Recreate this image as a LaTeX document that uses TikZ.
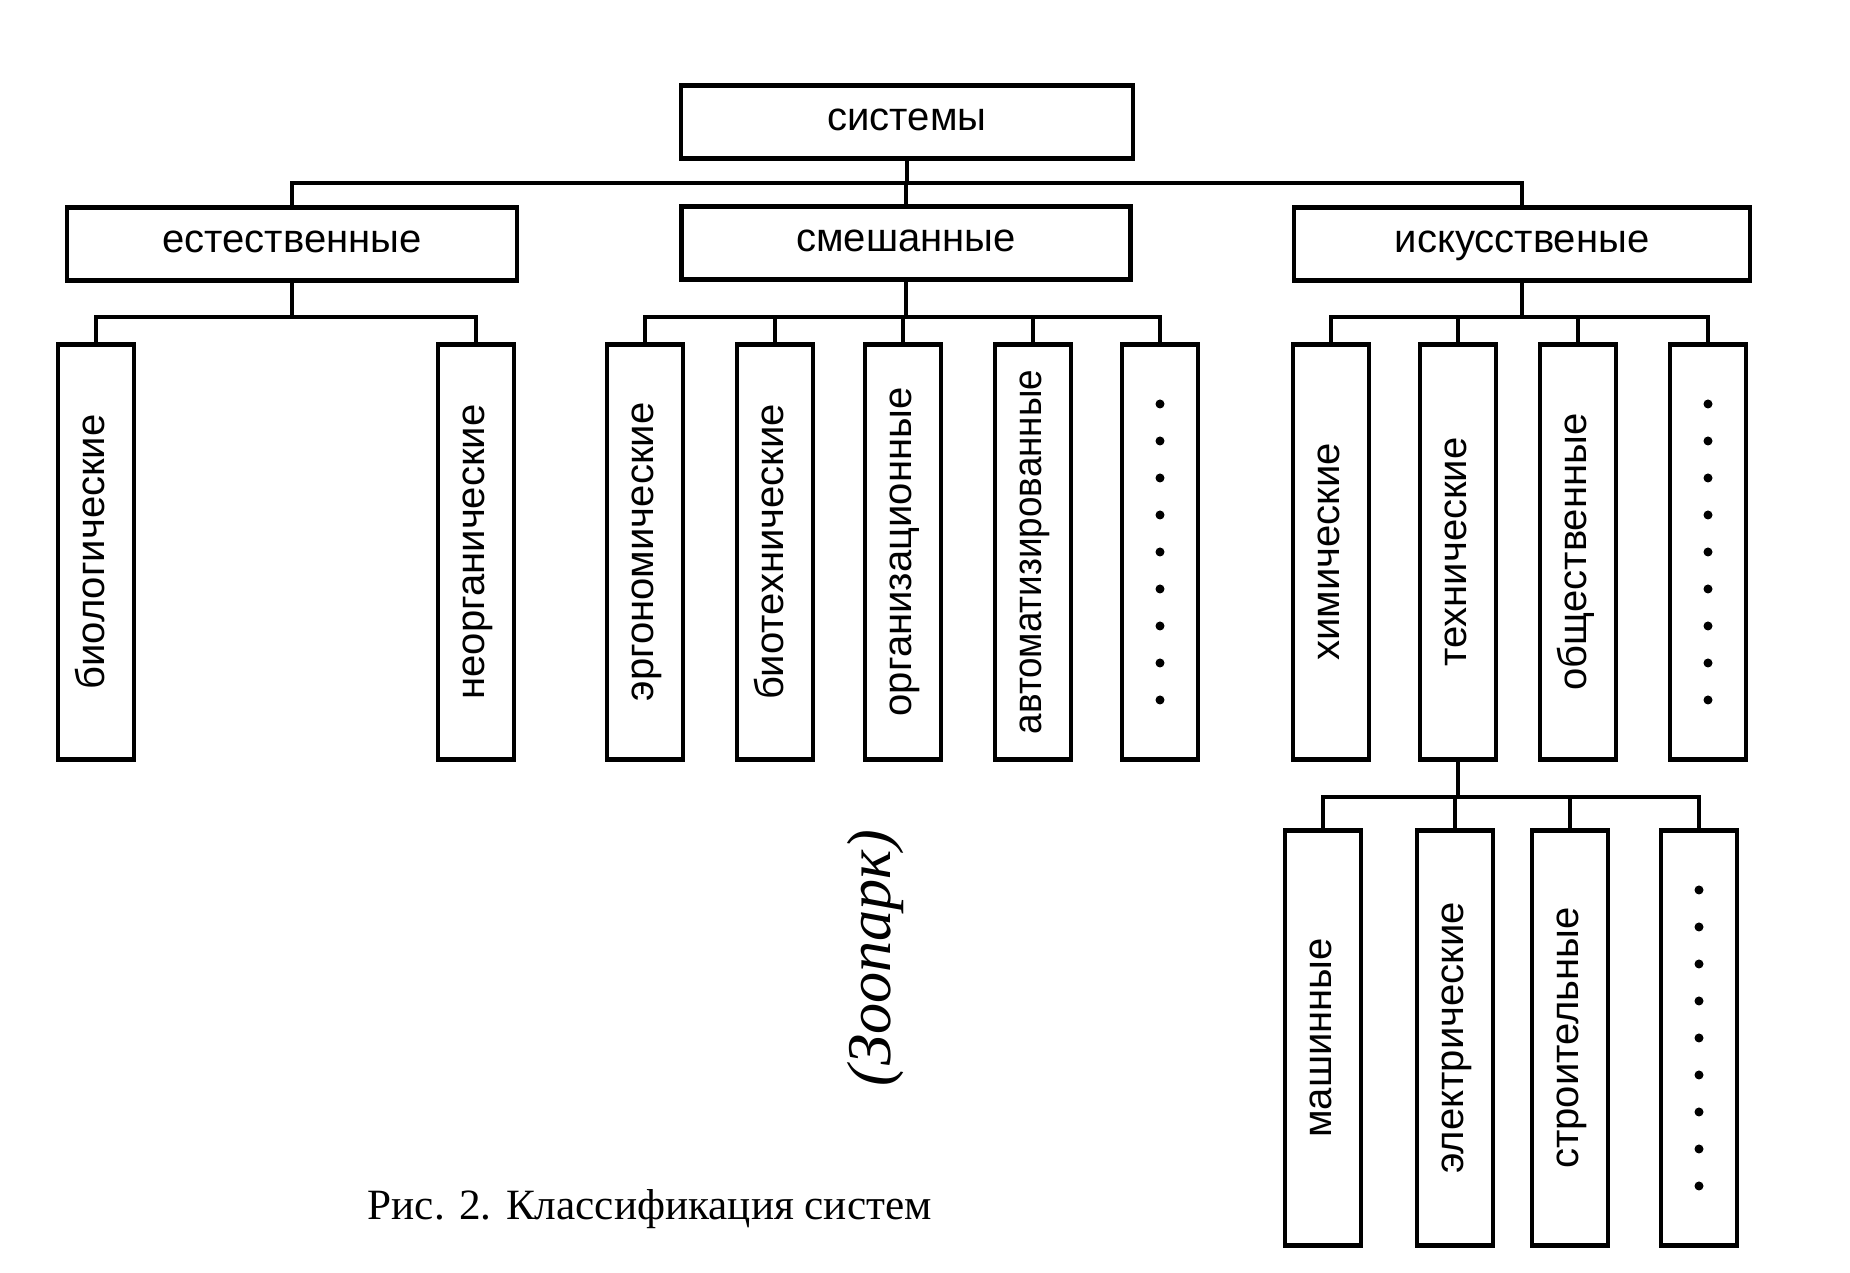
\documentclass[tikz,border=0pt]{standalone}
\usepackage{fontspec}
\setmainfont{Liberation Serif}
\newfontfamily\labfont{Liberation Sans}
\begin{document}
\begin{tikzpicture}[x=0.1mm,y=-0.1mm,
  hbox/.style={draw, line width=0.45mm, minimum height=7.3mm, inner sep=0pt, text height=1ex, text depth=0pt, font=\labfont\fontsize{11.4}{13}\selectfont},
  vbox/.style={draw, line width=0.45mm, minimum width=7.6mm, minimum height=41.5mm, inner sep=0pt},
  vlab/.style={rotate=90, font=\labfont\fontsize{11.4}{13}\selectfont, inner sep=0pt, text height=1ex, text depth=0pt},
  link/.style={line width=0.38mm, line cap=rect},
  blob/.style={fill=black}]
\useasboundingbox[fill=white] (0,0) rectangle (1850,1273);

% level 1-2
\node[hbox, minimum width=45.2mm] (sys) at (907,122) {системы};
\node[hbox, minimum width=45.0mm] (nat) at (292,244) {естественные};
\node[hbox, minimum width=44.9mm] (mix) at (906,243) {смешанные};
\node[hbox, minimum width=45.6mm] (art) at (1522,244) {искусственые};

\coordinate (bus1) at (0,183);
\draw[link] (sys.south) -- (sys.south |- bus1);
\draw[link] (nat.north |- bus1) -- (art.north |- bus1);
\draw[link] (nat.north) -- (nat.north |- bus1);
\draw[link] (mix.north) -- (mix.north |- bus1);
\draw[link] (art.north) -- (art.north |- bus1);

% level 3
\foreach \n/\x in {bio/96, neo/476, ergo/645, btech/775, org/903, avto/1033, dA/1160, chem/1331, tech/1458, obsh/1578, dB/1708}
  \node[vbox] (\n) at (\x,552) {};
\node[vlab] (bioT) at (bio) {биологические};
\node[vlab] (neoT) at (neo) {неорганические};
\node[vlab] (ergoT) at (ergo) {эргономические};
\node[vlab] (btechT) at (btech) {биотехнические};
\node[vlab] (orgT) at (org) {организационные};
\node[vlab] (avtoT) at (avto) {\scalebox{0.92}[1]{автоматизированные}};
\node[vlab] (chemT) at (chem) {химические};
\node[vlab] (techT) at (tech) {технические};
\node[vlab] (obshT) at (obsh) {общественные};

\coordinate (bus2) at (0,317);
\draw[link] (nat.south) -- (nat.south |- bus2);
\draw[link] (bio.north |- bus2) -- (neo.north |- bus2);
\draw[link] (mix.south) -- (mix.south |- bus2);
\draw[link] (ergo.north |- bus2) -- (dA.north |- bus2);
\draw[link] (art.south) -- (art.south |- bus2);
\draw[link] (chem.north |- bus2) -- (dB.north |- bus2);
\foreach \n in {bio, neo, ergo, btech, org, avto, dA, chem, tech, obsh, dB}
  \draw[link] (\n.north) -- (\n.north |- bus2);

% level 4
\foreach \n/\x in {mash/1323, elec/1455, stroi/1570, dC/1699}
  \node[vbox] (\n) at (\x,1038) {};
\node[vlab] (mashT) at (mash) {машинные};
\node[vlab] (elecT) at (elec) {электрические};
\node[vlab] (stroiT) at (stroi) {строительные};

\coordinate (bus3) at (0,797);
\draw[link] (tech.south) -- (tech.south |- bus3);
\draw[link] (mash.north |- bus3) -- (dC.north |- bus3);
\foreach \n in {mash, elec, stroi, dC}
  \draw[link] (\n.north) -- (\n.north |- bus3);

% dotted boxes
\foreach \n in {dA, dB, dC}
  \foreach \k in {-4,...,4}
    \fill[blob] (\n) ++(0,\k*37) circle[radius=0.45mm];

% annotations
\node[rotate=90, inner sep=0pt] (zoo) at (876,958) {\resizebox{25.7mm}{!}{\itshape (Зоопарк)}};
\node[anchor=base west, inner sep=0pt] (cap) at (367,1220) {\resizebox{56.4mm}{!}{Рис. 2. Классификация систем}};
\end{tikzpicture}
\end{document}
